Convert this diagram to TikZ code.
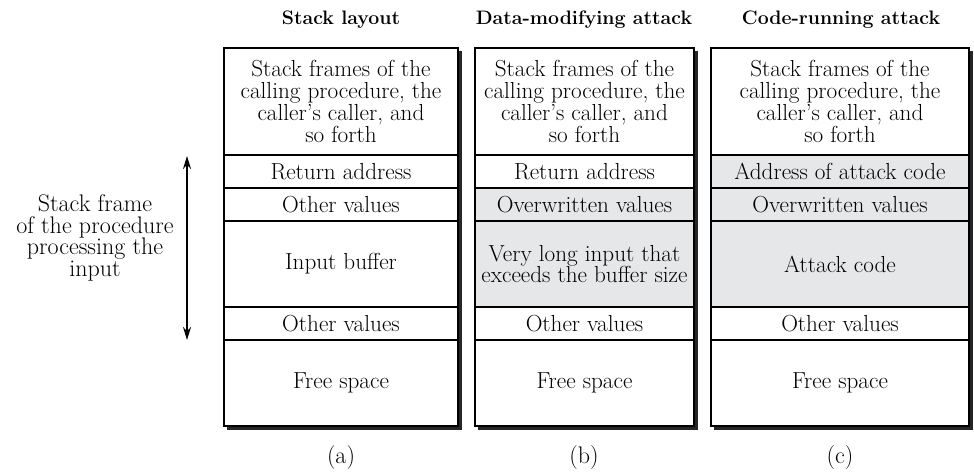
\documentclass[tikz,border=0pt]{standalone}
\usepackage{fontspec}
\usetikzlibrary{arrows.meta}
\definecolor{shade}{HTML}{E6E7E9}
\tikzset{
  stkcell/.style={draw=black, line width=1.1pt, inner sep=0pt, align=center,
    font=\fontsize{23.2}{21.7}\selectfont},
  ttl/.style={font=\fontsize{19.5}{22}\selectfont\bfseries, anchor=center},
  captxt/.style={font=\fontsize{24}{22}\selectfont},
  sidelbl/.style={align=center, font=\fontsize{24}{21.7}\selectfont},
  stkshade/.style={fill=black!85}
}
\newcommand{\stkcell}[7]{%
  \node[stkcell, fill=#6, minimum width={(#3-#2)*1pt}, minimum height={(#5-#4)*1pt}]
    (#1) at ({(#2+#3)/2},{(#4+#5)/2}) {#7};}
\newcommand{\stkshadow}[3]{%
  \fill[stkshade] (#1+3,426) rectangle (#2+3.5,430);
  \fill[stkshade] (#2,51) rectangle (#2+3.5,430);}
\begin{document}
\begin{tikzpicture}[x=1pt,y=-1pt]
\useasboundingbox (0,0) rectangle (974,473);
% titles
\node[ttl] (ta) at (341,20) {Stack layout};
\node[ttl] (tb) at (584,20) {Data-modifying attack};
\node[ttl] (tc) at (841,20) {Code-running attack};
% shadows
\stkshadow{224}{458}{}
\stkshadow{475}{694}{}
\stkshadow{711}{969}{}
% column a
\stkcell{a1}{224}{458}{48}{155}{white}{Stack frames of the\\calling procedure, the\\caller's caller, and\\so forth}
\stkcell{a2}{224}{458}{155}{188}{white}{Return address}
\stkcell{a3}{224}{458}{188}{221}{white}{Other values}
\stkcell{a4}{224}{458}{221}{307}{white}{Input buffer}
\stkcell{a5}{224}{458}{307}{340}{white}{Other values}
\stkcell{a6}{224}{458}{340}{426}{white}{Free space}
% column b
\stkcell{b1}{475}{694}{48}{155}{white}{Stack frames of the\\calling procedure, the\\caller's caller, and\\so forth}
\stkcell{b2}{475}{694}{155}{188}{white}{Return address}
\stkcell{b3}{475}{694}{188}{221}{shade}{Overwritten values}
\stkcell{b4}{475}{694}{221}{307}{shade}{Very long input that\\exceeds the buffer size}
\stkcell{b5}{475}{694}{307}{340}{white}{Other values}
\stkcell{b6}{475}{694}{340}{426}{white}{Free space}
% column c
\stkcell{c1}{711}{969}{48}{155}{white}{Stack frames of the\\calling procedure, the\\caller's caller, and\\so forth}
\stkcell{c2}{711}{969}{155}{188}{shade}{Address of attack code}
\stkcell{c3}{711}{969}{188}{221}{shade}{Overwritten values}
\stkcell{c4}{711}{969}{221}{307}{shade}{Attack code}
\stkcell{c5}{711}{969}{307}{340}{white}{Other values}
\stkcell{c6}{711}{969}{340}{426}{white}{Free space}
% side label and arrow
\node[sidelbl] (lbl) at (95,238) {Stack frame\\of the procedure\\processing the\\input};
\coordinate (arrtop) at (187,156);
\coordinate (arrbot) at (187,340);
\draw[line width=2pt, {Stealth[length=13pt,width=8pt]}-{Stealth[length=13pt,width=8pt]}] (arrtop) -- (arrbot);
% captions
\node[captxt] (ca) at (341,458) {(a)};
\node[captxt] (cb) at (584,458) {(b)};
\node[captxt] (cc) at (840,458) {(c)};
\end{tikzpicture}
\end{document}
